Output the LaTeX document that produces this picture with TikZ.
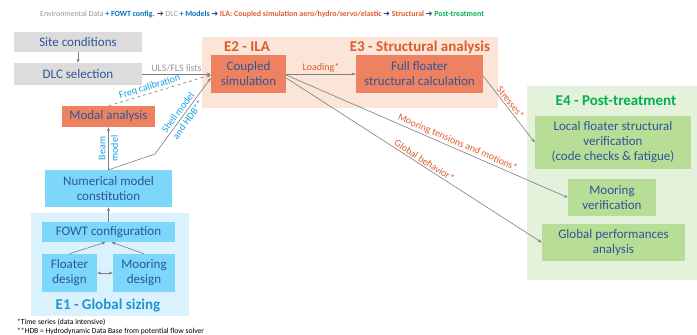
\documentclass[tikz,border=0pt]{standalone}
\usepackage{fontspec}
\setmainfont{Carlito}
\newfontfamily\arrowfont{DejaVu Sans}
\usetikzlibrary{arrows.meta}

\definecolor{txtblue}{RGB}{47,85,151}
\definecolor{boxgray}{RGB}{220,220,220}
\definecolor{boxsalmon}{RGB}{238,130,96}
\definecolor{boxblue}{RGB}{124,215,250}
\definecolor{boxgreen}{RGB}{183,221,150}
\definecolor{bgsalmon}{RGB}{251,228,216}
\definecolor{bgblue}{RGB}{218,242,253}
\definecolor{bggreen}{RGB}{228,241,219}
\definecolor{lblorange}{RGB}{222,92,44}
\definecolor{lblblue}{RGB}{20,160,225}
\definecolor{ttlblue}{RGB}{30,150,210}
\definecolor{ttlgreen}{RGB}{0,176,80}
\definecolor{hdgray}{RGB}{150,150,150}
\definecolor{hdblue}{RGB}{0,112,192}
\definecolor{hdarrow}{RGB}{31,56,100}
\definecolor{linegray}{RGB}{125,125,125}

\begin{document}
\begin{tikzpicture}[x=1pt,y=-1pt,
    box/.style={inner sep=1pt, align=center, text=txtblue, font=\fontsize{13}{15}\selectfont},
    graybox/.style={box, fill=boxgray},
    redbox/.style={box, fill=boxsalmon},
    bluebox/.style={box, fill=boxblue},
    greenbox/.style={box, fill=boxgreen},
    zonetitle/.style={font=\fontsize{15}{18}\selectfont\bfseries, inner sep=0pt},
    conn/.style={draw=linegray, line width=0.6pt, -{Stealth[length=4pt,width=3pt]}},
    lbl/.style={font=\fontsize{10}{12.5}\selectfont, inner sep=1.5pt}]
  \useasboundingbox (0,0) rectangle (697,335);

  % header line
  \node[anchor=west, inner sep=0pt, font=\fontsize{7.9}{9}\selectfont\bfseries] (header) at (40,14)
    {\textcolor{hdgray}{\mdseries Environmental Data} \textcolor{hdblue}{+ FOWT config.}
     \textcolor{hdarrow}{\arrowfont ➔} \textcolor{hdgray}{\mdseries DLC} \textcolor{hdblue}{+ Models}
     \textcolor{hdarrow}{\arrowfont ➔} \textcolor{lblorange}{ILA: Coupled simulation aero/hydro/servo/elastic}
     \textcolor{hdarrow}{\arrowfont ➔} \textcolor{lblorange}{Structural}
     \textcolor{hdarrow}{\arrowfont ➔} \textcolor{ttlgreen}{Post-treatment}};

  % zones
  \fill[bgsalmon] (202,37) rectangle (498,108);
  \fill[bggreen] (527,86) rectangle (697,280);
  \fill[bgblue] (31,213) rectangle (189,316);
  \node[zonetitle, text=lblorange] (e2title) at (247,47) {E2 - ILA};
  \node[zonetitle, text=lblorange] (e3title) at (420,47) {E3 - Structural analysis};
  \node[zonetitle, text=ttlgreen] (e4title) at (616,101) {E4 - Post-treatment};
  \node[zonetitle, text=ttlblue] (e1title) at (108,306) {E1 - Global sizing};

  % boxes
  \node[graybox, minimum width=128pt, minimum height=20pt] (site) at (78,42) {Site conditions};
  \node[graybox, minimum width=128pt, minimum height=22pt] (dlc) at (78,74) {DLC selection};
  \node[redbox, minimum width=75pt, minimum height=38pt] (coupled) at (248.5,74) {Coupled\\simulation};
  \node[redbox, minimum width=127pt, minimum height=38pt] (full) at (419.5,74) {Full floater\\structural calculation};
  \node[redbox, minimum width=93pt, minimum height=21pt] (modal) at (108.5,116.5) {Modal analysis};
  \node[bluebox, minimum width=127pt, minimum height=37pt] (numerical) at (108.5,188.5) {Numerical model\\constitution};
  \node[bluebox, minimum width=133pt, minimum height=20pt] (fowt) at (108.5,232) {FOWT configuration};
  \node[bluebox, minimum width=55pt, minimum height=38pt] (floaterdes) at (69.5,273) {Floater\\design};
  \node[bluebox, minimum width=62pt, minimum height=38pt] (mooringdes) at (144,273) {Mooring\\design};
  \node[greenbox, minimum width=156pt, minimum height=53pt] (local) at (613,142.5) {Local floater structural\\verification\\(code checks \& fatigue)};
  \node[greenbox, minimum width=88pt, minimum height=37pt] (mooringver) at (612,197.5) {Mooring\\verification};
  \node[greenbox, minimum width=143pt, minimum height=37pt] (global) at (613.5,242.5) {Global performances\\analysis};
  \coordinate (bend) at (155,154);

  % connectors
  \draw[conn] (site) -- (dlc);
  \draw[conn] (dlc) -- node[lbl, above, text=hdgray] {ULS/FLS lists} (coupled.west);
  \draw[conn, dashed] (modal.north) -- node[lbl, sloped, above, pos=0.42, text=lblblue] {Freq calibration} ([yshift=-1pt]coupled.west);
  \draw[conn] (numerical.north) -- node[lbl, sloped, align=center, text=lblblue] {Beam\\model} (modal.south);
  \draw[conn] (numerical.north) -- (bend) -- node[lbl, sloped, align=center, text=lblblue] {Shell model\\and HDB**} ([yshift=-4pt]coupled.west);
  \draw[conn] (fowt) -- (numerical);
  \draw[conn] (floaterdes.north) -- ([xshift=-3pt]fowt.south);
  \draw[conn] (mooringdes.north) -- ([xshift=3pt]fowt.south);
  \draw[conn, {Stealth[length=4pt,width=3pt]}-{Stealth[length=4pt,width=3pt]}] (floaterdes) -- (mooringdes);
  \draw[conn] (coupled) -- node[lbl, above, text=lblorange] {Loading*} (full);
  \draw[conn] ([yshift=-2pt]full.east) -- node[lbl, sloped, above, pos=0.45, text=lblorange] {Stresses*} (local.west);
  \draw[conn] ([yshift=-1pt]coupled.east) -- node[lbl, sloped, above, pos=0.6, text=lblorange] {Mooring tensions and motions*} (mooringver.west);
  \draw[conn] ([yshift=-4pt]coupled.east) -- node[lbl, sloped, above, pos=0.53, text=lblorange] {Global behavior*} (global.west);

  % footnotes
  \node[anchor=west, inner sep=0pt, font=\fontsize{7.6}{8}\selectfont] (note1) at (17,322) {*Time series (data intensive)};
  \node[anchor=west, inner sep=0pt, font=\fontsize{7.6}{8}\selectfont] (note2) at (17,331) {**HDB = Hydrodynamic Data Base from potential flow solver};
\end{tikzpicture}
\end{document}
